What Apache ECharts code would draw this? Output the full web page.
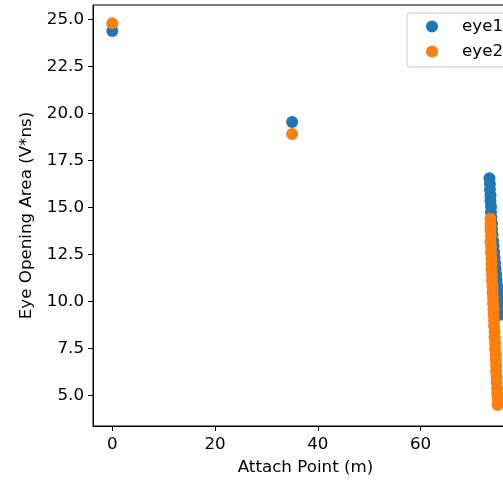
<!DOCTYPE html>
<html>
<head>
<meta charset="utf-8">
<script src="https://cdn.jsdelivr.net/npm/echarts@6/dist/echarts.min.js"></script>
<style>
  html, body { margin: 0; padding: 0; background: #fff; }
  #chart { width: 503px; height: 480px; }
</style>
</head>
<body>
<div id="chart"></div>
<script>
// Eye opening area measured at each attach point
const eye1Attach = [0, 35,
  73.4, 73.5, 73.5, 73.6, 73.6, 73.7, 73.7, 73.8, 73.9, 73.9, 74.0, 74.1, 74.2,
  74.3, 74.4, 74.5, 74.6, 74.7, 74.8, 74.9, 75.0, 75.1, 75.2, 75.3, 75.4, 75.5];
const eye1Area = [24.38, 19.54,
  16.55, 16.25, 15.95, 15.65, 15.35, 15.05, 14.75, 14.45, 14.15, 13.85, 13.55, 13.25, 12.95,
  12.65, 12.35, 12.05, 11.75, 11.45, 11.15, 10.85, 10.55, 10.25, 9.95, 9.65, 9.4, 9.3];

const eye2Attach = [0, 35,
  73.6, 73.6, 73.6, 73.7, 73.6, 73.7, 73.7, 73.8, 73.8, 73.8, 73.9, 73.9, 74.0, 74.0,
  74.1, 74.1, 74.2, 74.2, 74.3, 74.3, 74.4, 74.4, 74.5, 74.5, 74.6, 74.6, 74.7, 74.7,
  74.8, 74.8, 74.9, 74.9, 75.0, 75.0];
const eye2Area = [24.79, 18.90,
  14.40, 14.10, 13.80, 13.50, 13.20, 12.90, 12.60, 12.30, 12.00, 11.70, 11.40, 11.10, 10.80, 10.50,
  10.20, 9.90, 9.60, 9.30, 9.00, 8.70, 8.40, 8.10, 7.80, 7.50, 7.20, 6.90, 6.60, 6.30,
  6.00, 5.70, 5.40, 5.10, 4.80, 4.50];

const xTicks = [0, 20, 40, 60];
const yTicks = [5, 7.5, 10, 12.5, 15, 17.5, 20, 22.5, 25];

const pair = (xs, ys) => xs.map((x, i) => [x, ys[i]]);

const FONT = 'DejaVu Sans';
const FS = 16.7;

const chart = echarts.init(document.getElementById('chart'), null, { renderer: 'canvas' });
chart.setOption({
  animation: false,
  backgroundColor: '#fff',
  textStyle: { fontFamily: FONT, color: '#000' },
  grid: {
    left: 93, top: 5, right: -15, bottom: 54,
    containLabel: false,
    outerBoundsMode: 'none',
    show: true, borderColor: '#000', borderWidth: 1, backgroundColor: 'transparent'
  },
  legend: {
    orient: 'vertical',
    left: 407, top: 13,
    padding: [5, 14, 7, 19],
    itemGap: 8,
    itemWidth: 12, itemHeight: 12,
    icon: 'circle',
    backgroundColor: 'rgba(255,255,255,0.8)',
    borderColor: '#cccccc', borderWidth: 1, borderRadius: 3,
    textStyle: { fontFamily: FONT, fontSize: FS, color: '#000', lineHeight: 17, padding: [0, 0, 0, 19] },
    data: ['eye1', 'eye2']
  },
  xAxis: {
    type: 'value',
    min: -3.76, max: 78.96,
    name: 'Attach Point (m)',
    nameLocation: 'middle', nameGap: 33,
    nameTextStyle: { fontFamily: FONT, fontSize: FS, color: '#000' },
    axisLine: { show: true, onZero: false, lineStyle: { color: '#000', width: 1 } },
    axisTick: { show: true, length: 5, lineStyle: { color: '#000' }, customValues: xTicks },
    axisLabel: { fontFamily: FONT, fontSize: FS, color: '#000', margin: 10, customValues: xTicks },
    splitLine: { show: false }
  },
  yAxis: {
    type: 'value',
    min: 3.39, max: 25.76,
    name: 'Eye Opening Area (V*ns)',
    nameLocation: 'middle', nameGap: 58, nameRotate: 90,
    nameTextStyle: { fontFamily: FONT, fontSize: FS, color: '#000' },
    axisLine: { show: true, onZero: false, lineStyle: { color: '#000', width: 1 } },
    axisTick: { show: true, length: 5, lineStyle: { color: '#000' }, customValues: yTicks },
    axisLabel: {
      fontFamily: FONT, fontSize: FS, color: '#000', margin: 9, customValues: yTicks,
      formatter: v => v.toFixed(1)
    },
    splitLine: { show: false }
  },
  series: [
    {
      name: 'eye1', type: 'scatter', symbol: 'circle', symbolSize: 12,
      itemStyle: { color: '#1f77b4', opacity: 1 },
      data: pair(eye1Attach, eye1Area)
    },
    {
      name: 'eye2', type: 'scatter', symbol: 'circle', symbolSize: 12,
      itemStyle: { color: '#ff7f0e', opacity: 1 },
      data: pair(eye2Attach, eye2Area)
    }
  ]
});
</script>
</body>
</html>
